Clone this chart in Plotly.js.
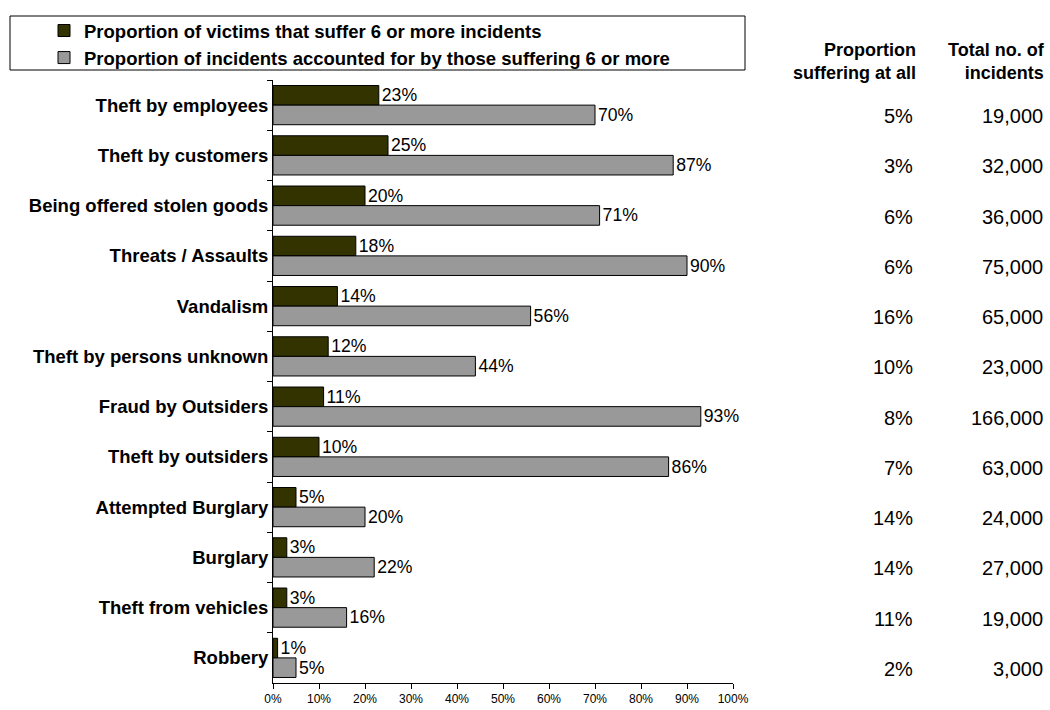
<!DOCTYPE html>
<html>
<head>
<meta charset="utf-8">
<script src="https://cdn.plot.ly/plotly-3.0.1.min.js"></script>
<style>html,body{margin:0;padding:0;background:#fff;}#chart{width:1050px;height:710px;}</style>
</head>
<body>
<div id="chart"></div>
<script>
const categories = ["Theft by employees","Theft by customers","Being offered stolen goods","Threats / Assaults","Vandalism","Theft by persons unknown","Fraud by Outsiders","Theft by outsiders","Attempted Burglary","Burglary","Theft from vehicles","Robbery"];
const victimsSix = [23,25,20,18,14,12,11,10,5,3,3,1];
const incidentsSix = [70,87,71,90,56,44,93,86,20,22,16,5];
const sufferingAtAll = ["5%","3%","6%","6%","16%","10%","8%","7%","14%","14%","11%","2%"];
const totalIncidents = ["19,000","32,000","36,000","75,000","65,000","23,000","166,000","63,000","24,000","27,000","19,000","3,000"];
const xTickVals = [0,10,20,30,40,50,60,70,80,90,100];
const xTickText = ["0%","10%","20%","30%","40%","50%","60%","70%","80%","90%","100%"];
const seriesNames = ["Proportion of victims that suffer 6 or more incidents","Proportion of incidents accounted for by those suffering 6 or more"];
const headers = ["Proportion<br>suffering at all","Total no. of<br>incidents"];

const FONT = "Arial, 'Liberation Sans', sans-serif";

const traces = [
  {type:'bar', orientation:'h', name:seriesNames[0], y:categories, x:victimsSix,
   marker:{color:'#333300', line:{color:'#000', width:1}},
   text:victimsSix.map(v=>v+'%'), textposition:'outside', cliponaxis:false,
   textfont:{family:FONT,size:18,color:'#000'}},
  {type:'bar', orientation:'h', name:seriesNames[1], y:categories, x:incidentsSix,
   marker:{color:'#999999', line:{color:'#000', width:1}},
   text:incidentsSix.map(v=>v+'%'), textposition:'outside', cliponaxis:false,
   textfont:{family:FONT,size:18,color:'#000'}}
];

const annotations = [];
categories.forEach((c,i)=>{
  annotations.push({xref:'paper', yref:'y', x:1.395, y:c, xanchor:'right', yanchor:'middle',
    text:sufferingAtAll[i], showarrow:false, yshift:-11, font:{family:FONT,size:20,color:'#000'}});
  annotations.push({xref:'paper', yref:'y', x:1.678, y:c, xanchor:'right', yanchor:'middle',
    text:totalIncidents[i], showarrow:false, yshift:-11, font:{family:FONT,size:20,color:'#000'}});
});
annotations.push({xref:'paper', yref:'paper', x:1.403, y:1.0315, xanchor:'right', yanchor:'middle',
  text:headers[0], showarrow:false, align:'right', font:{family:FONT,size:18,color:'#000',weight:'bold'}});
annotations.push({xref:'paper', yref:'paper', x:1.682, y:1.0315, xanchor:'right', yanchor:'middle',
  text:headers[1], showarrow:false, align:'right', font:{family:FONT,size:18,color:'#000',weight:'bold'}});

const layout = {
  width:1050, height:710,
  margin:{l:273, r:317, t:80, b:27},
  paper_bgcolor:'#fff', plot_bgcolor:'#fff',
  barmode:'group', bargap:0.22, bargroupgap:0,
  showlegend:true,
  legend:{x:(44-273)/460, y:(683-12)/603, xanchor:'left', yanchor:'top',
    font:{family:FONT,size:18.5,color:'#000',weight:'bold'},
    traceorder:'normal', bgcolor:'rgba(0,0,0,0)', borderwidth:0},
  xaxis:{range:[0,100], tickvals:xTickVals, ticktext:xTickText, ticks:'outside', ticklen:5,
    tickcolor:'#000', showline:true, linecolor:'#000', linewidth:1, showgrid:false, zeroline:false,
    tickfont:{family:FONT,size:12,color:'#000'}, fixedrange:true},
  yaxis:{type:'category', autorange:'reversed', ticks:'outside', ticklen:5, tickson:'boundaries',
    tickcolor:'#000', showline:true, linecolor:'#000', linewidth:1, showgrid:false, zeroline:false,
    tickfont:{family:FONT,size:18.5,color:'#000',weight:'bold'}, ticklabelstandoff:0},
  shapes:[{type:'rect', xref:'paper', yref:'paper', x0:(10-273)/460, x1:(745-273)/460,
    y0:(683-70)/603, y1:(683-16)/603, line:{color:'#000',width:1}, fillcolor:'rgba(0,0,0,0)'}],
  annotations:annotations
};

Plotly.newPlot('chart', traces, layout, {displayModeBar:false, staticPlot:true});
</script>
</body>
</html>
